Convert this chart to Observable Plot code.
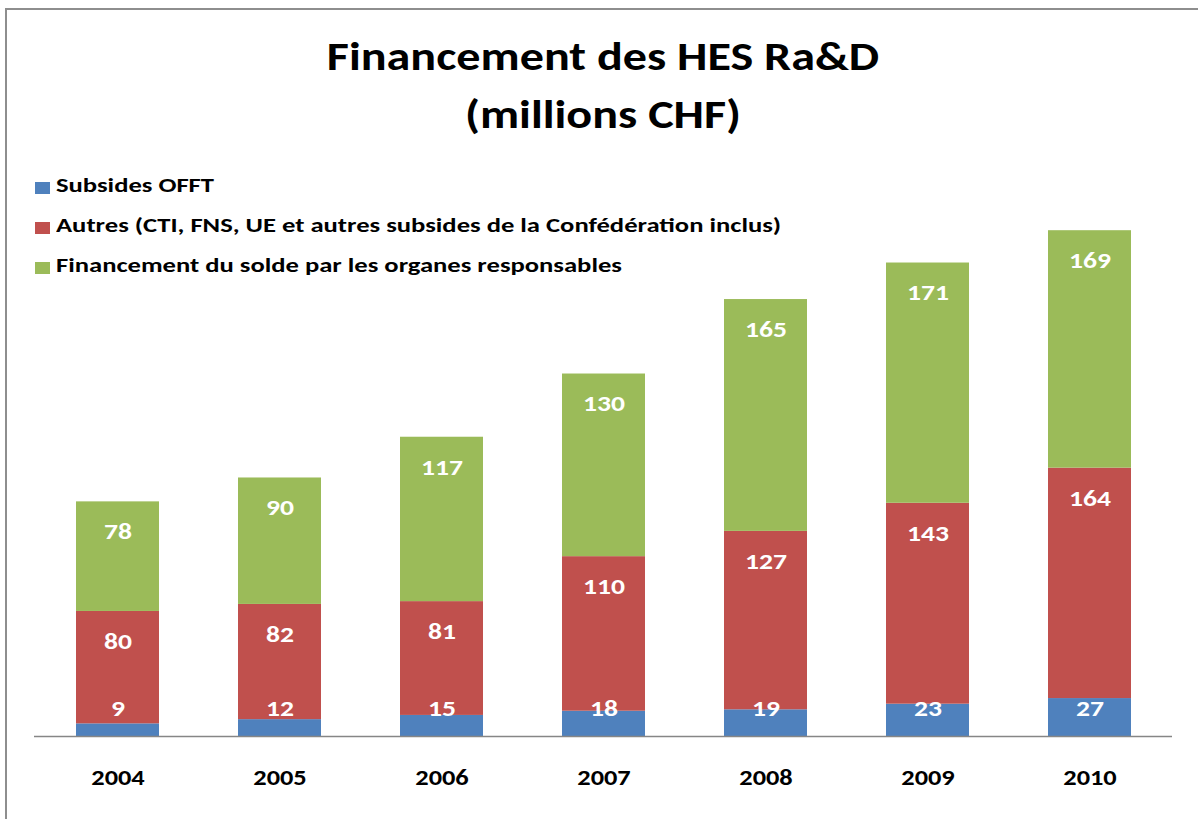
<!DOCTYPE html>
<html>
<head>
<meta charset="utf-8">
<script src="https://cdn.jsdelivr.net/npm/d3@7"></script>
<script src="https://cdn.jsdelivr.net/npm/@observablehq/plot@0.6"></script>
<style>
  html, body { margin: 0; padding: 0; background: #fff; }
  #wrap { position: relative; width: 1198px; height: 819px; overflow: hidden; font-family: Carlito, Lato, sans-serif; }
  #frame { position: absolute; left: 5px; top: 8px; width: 1300px; height: 900px; border-left: 2px solid #8e8e8e; border-top: 2px solid #8e8e8e; }
  #title { position: absolute; left: 0; width: 1206px; top: 27px; text-align: center; font-weight: bold; font-size: 41px; line-height: 58px; color: #000; }
  #title div { transform: scaleX(1.174); transform-origin: 50% 50%; }
  #legend { position: absolute; left: 35px; top: 165px; font-weight: bold; font-size: 20px; color: #000; }
  .item { height: 40px; line-height: 40px; position: relative; white-space: nowrap; }
  .sw { position: absolute; left: 0; top: 17px; width: 15px; height: 11.5px; }
  .lbl { position: absolute; left: 21px; top: 0; transform: scaleX(1.33); transform-origin: 0 50%; }
  #chart { position: absolute; left: 0; top: 0; }
</style>
</head>
<body>
<div id="wrap">
  <div id="frame"></div>
  <div id="chart"></div>
  <div id="title"><div>Financement des HES Ra&amp;D</div><div>(millions CHF)</div></div>
  <div id="legend"></div>
</div>
<script>
const years = ["2004", "2005", "2006", "2007", "2008", "2009", "2010"];
const seriesNames = [
  "Subsides OFFT",
  "Autres (CTI, FNS, UE et autres subsides de la Confédération inclus)",
  "Financement du solde par les organes responsables"
];
const seriesColors = ["#4F81BD", "#C0504D", "#9BBB59"];
const offt = [9, 12, 15, 18, 19, 23, 27];
const autres = [80, 82, 81, 110, 127, 143, 164];
const solde = [78, 90, 117, 130, 165, 171, 169];

const values = [offt, autres, solde];
const data = [];
values.forEach((arr, s) => arr.forEach((v, i) => data.push({year: years[i], series: seriesNames[s], order: s, value: v})));

// Legend
const legend = document.getElementById("legend");
seriesNames.forEach((name, i) => {
  const row = document.createElement("div");
  row.className = "item";
  row.innerHTML = `<span class="sw" style="background:${seriesColors[i]}"></span><span class="lbl">${name}</span>`;
  legend.appendChild(row);
});

const font = "Carlito, Lato, sans-serif";
const chart = Plot.plot({
  width: 1198,
  height: 819,
  marginLeft: 34,
  marginRight: 26,
  marginBottom: 83,
  marginTop: 174,
  style: {fontFamily: font, background: "transparent"},
  x: {domain: years, paddingInner: 0.489, paddingOuter: 0.2445, label: null},
  y: {domain: [0, 400], axis: null},
  color: {domain: seriesNames, range: seriesColors},
  marks: [
    Plot.barY(data, Plot.stackY({x: "year", y: "value", fill: "series", z: "series", order: "order"})),
    Plot.ruleY([0], {stroke: "#868686", strokeWidth: 1.5}),
    Plot.text(data, Plot.stackY2({x: "year", y: "value", z: "series", order: "order",
      text: d => d.order > 0 ? String(d.value) : null,
      fill: "white", fontWeight: "bold", fontSize: 23, dy: 30, lineAnchor: "middle"})),
    Plot.text(data, Plot.stackY1({x: "year", y: "value", z: "series", order: "order",
      text: d => d.order === 0 ? String(d.value) : null,
      fill: "white", fontWeight: "bold", fontSize: 23, dy: -28, lineAnchor: "middle"})),
    Plot.axisX({tickSize: 0, tickPadding: 33, fontSize: 22, fontWeight: "bold", fill: "black", label: null})
  ]
});
// widen the glyphs horizontally, as in the reference rendering
chart.querySelectorAll("text").forEach(t => {
  const tr = t.getAttribute("transform");
  if (tr) t.setAttribute("transform", tr + " scale(1.2,1)");
});
document.getElementById("chart").appendChild(chart);
</script>
</body>
</html>
